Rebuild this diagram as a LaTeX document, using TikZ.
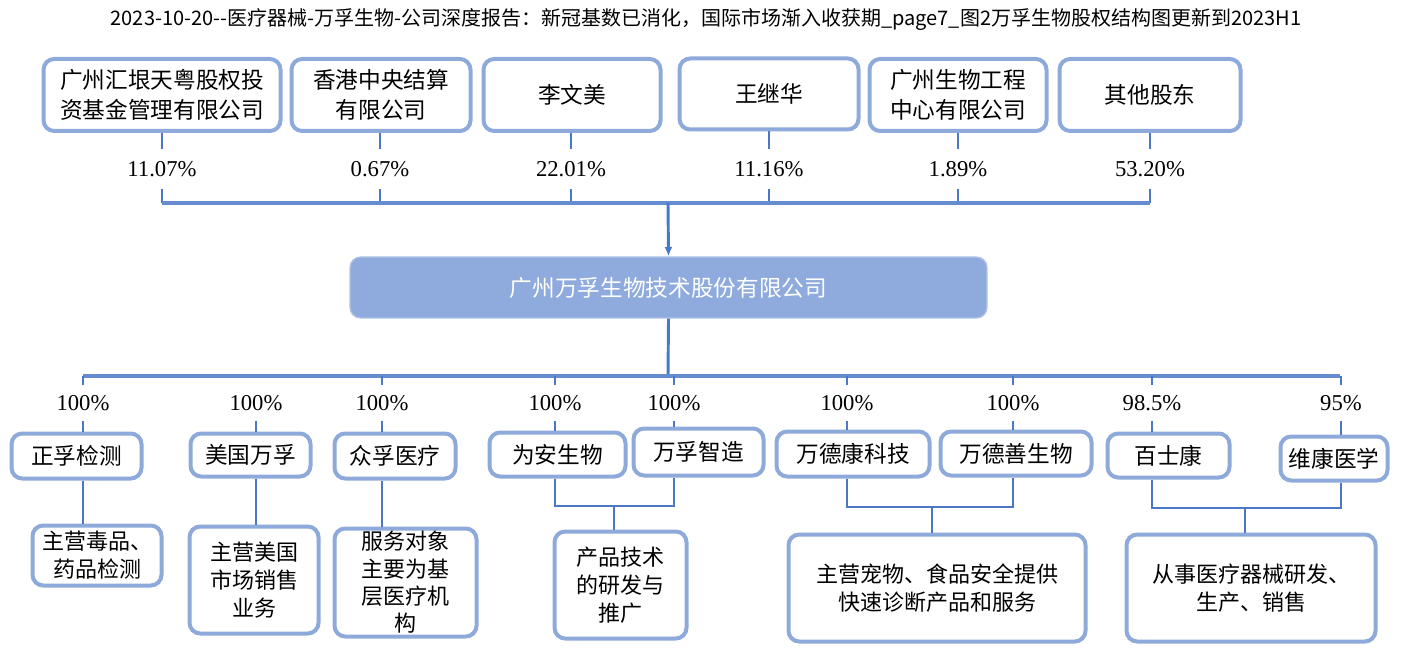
\documentclass[tikz,border=0pt]{standalone}
\usepackage{fontspec}
\setmainfont{Liberation Serif}
\newfontfamily\cjk{Noto Sans CJK SC}
\usetikzlibrary{arrows.meta}
\definecolor{boxblue}{HTML}{8EAADB}
\definecolor{linkblue}{HTML}{4A78C6}
\definecolor{mainfill}{HTML}{8FAADC}
\begin{document}
\begin{tikzpicture}[x=0.75pt,y=-0.75pt,
  box/.style={draw=boxblue, line width=3pt, rounded corners=8pt, fill=white, inner sep=0pt, align=center, font=\cjk\fontsize{17}{22.5}\selectfont},
  sbox/.style={box, font=\cjk\fontsize{17}{21}\selectfont},
  dbox/.style={box, font=\cjk\fontsize{16.5}{21}\selectfont},
  sz/.style 2 args={minimum width=#1*0.75pt, minimum height=#2*0.75pt},
  mainbox/.style={draw=boxblue!70!white, line width=1pt, rounded corners=8pt, fill=mainfill, text=white, inner sep=0pt, font=\cjk\fontsize{17}{20}\selectfont},
  pct/.style={inner sep=0pt, font=\fontsize{17}{19}\selectfont},
  link/.style={draw=linkblue, line width=2.2pt},
  bus/.style={draw=linkblue!85!white, line width=2.4pt},
  titlestyle/.style={inner sep=0pt, font=\cjk\fontsize{15}{16}\selectfont}
]
\useasboundingbox (0,0) rectangle (1413,652);

\node[titlestyle] (title) at (706,20) {2023-10-20--医疗器械-万孚生物-公司深度报告：新冠基数已消化，国际市场渐入收获期\_page7\_图2万孚生物股权结构图更新到2023H1};

% shareholders
\node[box, sz={237}{72}] (t1) at (162,95) {广州汇垠天粤股权投\\资基金管理有限公司};
\node[box, sz={179}{72}] (t2) at (381,95) {香港中央结算\\有限公司};
\node[box, sz={177}{72}] (t3) at (572,95) {李文美};
\node[box, sz={179}{71}] (t4) at (769,94) {王继华};
\node[box, sz={177}{72}] (t5) at (958,95) {广州生物工程\\中心有限公司};
\node[box, sz={181}{72}] (t6) at (1150,95) {其他股东};

\foreach \i/\x/\v in {1/162/11.07\%,2/380/0.67\%,3/571/22.01\%,4/769/11.16\%,5/958/1.89\%,6/1150/53.20\%}{
  \node[pct, minimum height=40*0.75pt] (p\i) at (\x,169) {\v};
  \coordinate (b\i) at (\x,203);
  \draw[link] (p\i.north |- t\i.south) -- (p\i.north);
  \draw[link] (p\i.south) -- (b\i);
}
\draw[bus] (b1) -- (b6);
\coordinate (bm) at (668,203);

% main company
\node[mainbox, sz={637}{61}] (main) at (668.5,287.5) {广州万孚生物技术股份有限公司};
\draw[link, -{Latex[length=7pt,width=6pt]}] (bm) -- (main.north);

\coordinate (bc) at (668,376);
\draw[link] (main.south) -- (bc);
\coordinate (bl) at (83,376);
\coordinate (br) at (1340,376);
\draw[bus] (bl) -- (br);

% subsidiaries
\node[sbox, sz={130}{45}] (s1) at (76.5,456) {正孚检测};
\node[sbox, sz={120}{43}] (s2) at (250.5,455) {美国万孚};
\node[sbox, sz={121}{45}] (s3) at (395,456) {众孚医疗};
\node[sbox, sz={136}{44}] (s4) at (557.5,454.5) {为安生物};
\node[sbox, sz={130}{47}] (s5) at (698.5,452) {万孚智造};
\node[sbox, sz={153}{45}] (s6) at (853,454) {万德康科技};
\node[sbox, sz={151}{44}] (s7) at (1016,453.5) {万德善生物};
\node[sbox, sz={122}{44}] (s8) at (1168.5,455.5) {百士康};
\node[sbox, sz={107}{44}] (s9) at (1334,458.5) {维康医学};

\foreach \i/\x/\v in {1/83/100\%,2/256/100\%,3/382/100\%,4/555/100\%,5/674/100\%,6/847/100\%,7/1013/100\%,8/1152/98.5\%,9/1341/95\%}{
  \node[pct, minimum height=35*0.75pt] (q\i) at (\x,403) {\v};
  \draw[link] (q\i.south) -- (q\i.south |- s\i.north);
}
\foreach \i in {1,3,4,5,6,7,8,9}{
  \draw[link] (q\i.north |- bc) -- (q\i.north);
}

% descriptions
\node[dbox, sz={129}{60}] (d1) at (97,555.5) {主营毒品、\\药品检测};
\node[dbox, sz={129}{107}] (d2) at (254,580) {主营美国\\市场销售\\业务};
\node[dbox, sz={142}{108}, font=\cjk\fontsize{16.5}{20.5}\selectfont] (d3) at (405.5,582.5) {服务对象\\主要为基\\层医疗机\\构};
\node[dbox, sz={132}{107}] (d4) at (620.5,585) {产品技术\\的研发与\\推广};
\node[dbox, sz={297}{107}] (d5) at (937,588) {主营宠物、食品安全提供\\快速诊断产品和服务};
\node[dbox, sz={249}{107}] (d6) at (1251,588) {从事医疗器械研发、\\生产、销售};

\draw[link] (q1.south |- s1.south) -- (q1.south |- d1.north);
\draw[link] (q2.south |- s2.south) -- (q2.south |- d2.north);
\draw[link] (q3.south |- s3.south) -- (q3.south |- d3.north);

\coordinate (j4) at (614,506);
\draw[link] (q4.south |- s4.south) |- (j4) -| (q5.south |- s5.south);
\draw[link] (j4) -- (j4 |- d4.north);
\coordinate (j6) at (932,507);
\draw[link] (q6.south |- s6.south) |- (j6) -| (q7.south |- s7.south);
\draw[link] (j6) -- (j6 |- d5.north);
\coordinate (j8) at (1245,508);
\draw[link] (q8.south |- s8.south) |- (j8) -| (q9.south |- s9.south);
\draw[link] (j8) -- (j8 |- d6.north);
\end{tikzpicture}
\end{document}
